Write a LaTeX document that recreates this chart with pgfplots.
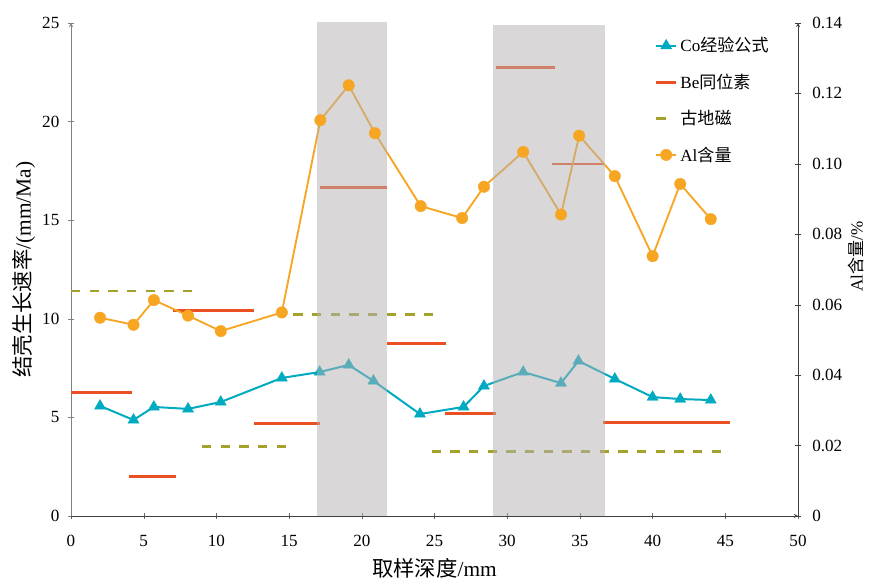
\documentclass[border=0pt]{standalone}
\usepackage{pgfplots}
\pgfplotsset{compat=1.18}
\usepackage{fontspec}
\setmainfont{Liberation Serif}
\newfontfamily\cjk{Noto Sans CJK SC}
\definecolor{coC}{RGB}{0,170,192}
\definecolor{beC}{RGB}{235,80,35}
\definecolor{geoC}{RGB}{163,163,44}
\definecolor{alC}{RGB}{246,166,35}
\definecolor{bandC}{RGB}{180,176,178}
\pgfplotsset{
  shortleg/.style={legend image code/.code={\draw[##1] (0cm,0cm) -- (0.25cm,0cm);}},
  lineleg/.style={legend image code/.code={\draw[mark repeat=2,mark phase=2,##1] plot coordinates {(0cm,0cm) (0.265cm,0cm) (0.53cm,0cm)};}},
}
\begin{document}
\begin{tikzpicture}[font=\fontsize{12.8}{15}\selectfont]
\pgfplotsset{
  common/.style={
    scale only axis, width=545.25pt, height=369.75pt,
    xmin=0, xmax=50,
    axis line style={-},
    tick align=outside,
    major tick length=4.5pt,
    /pgf/number format/assume math mode=true,
    label style={font=\fontsize{16}{18}\selectfont},
  },
}
\begin{axis}[common, name=main,
  ymin=0, ymax=25,
  axis x line=bottom, axis y line=left,
  xtick={0,5,...,50}, ytick={0,5,10,15,20,25},
  x axis line style={black!75},
  xtick style={black!60},
  y axis line style={gray},
  ytick style={gray},
  xticklabel style={yshift=-8.5pt},
  yticklabel style={xshift=-3pt},
  xlabel={{\cjk 取样深度}/mm},
  ylabel={{\cjk 结壳生长速率}/(mm/Ma)},
  xlabel style={at={(axis description cs:0.5,-0.1055)}, anchor=center},
  ylabel style={at={(axis description cs:-0.0647,0.5)}, anchor=center},
  unbounded coords=jump,
]
% Be isotope segments
\addplot[beC, line width=2.2pt] coordinates {
 (0,6.24) (4.2,6.24) (4.2,nan)
 (4.0,1.98) (7.2,1.98) (7.2,nan)
 (7.0,10.41) (12.6,10.41) (12.6,nan)
 (12.6,4.70) (17.1,4.70) (17.1,nan)
 (17.1,16.67) (21.7,16.67) (21.7,nan)
 (21.7,8.77) (25.8,8.77) (25.8,nan)
 (25.7,5.21) (29.2,5.21) (29.2,nan)
 (29.2,22.73) (33.3,22.73) (33.3,nan)
 (33.1,17.85) (36.7,17.85) (36.7,nan)
 (36.6,4.75) (45.3,4.75)
};
% palaeomagnetism segments
\addplot[geoC, line width=2.2pt, dash pattern=on 7pt off 7pt] coordinates {
 (0,11.41) (8.6,11.41) (8.6,nan)
 (15.3,10.24) (25.0,10.24) (25.0,nan)
 (9.0,3.51) (14.9,3.51) (14.9,nan)
 (24.8,3.28) (45.1,3.28)
};
% Co empirical formula
\addplot[coC, line width=1.5pt, mark=triangle*, mark size=4.8pt, mark options={line width=0.3pt}] coordinates {
 (2.0,5.58) (4.3,4.87) (5.7,5.53) (8.05,5.43) (10.3,5.78) (14.5,7.0) (17.1,7.30) (19.1,7.66) (20.8,6.85) (24.0,5.17) (27.0,5.53) (28.4,6.59) (31.1,7.30) (33.7,6.74) (34.9,7.86) (37.4,6.95) (40.0,6.03) (41.9,5.93) (44.0,5.88)
};
\end{axis}
\begin{axis}[common,
  ymin=0, ymax=0.14,
  axis y line=right, axis x line=none,
  y axis line style={black!75},
  ytick style={black!75},
  ytick={0,0.02,0.04,0.06,0.08,0.10,0.12,0.14},
  yticklabels={0,0.02,0.04,0.06,0.08,0.10,0.12,0.14},
  yticklabel style={xshift=5pt},
  scaled y ticks=false,
  ylabel={Al{\cjk 含量}/\%},
  ylabel style={at={(axis description cs:1.0798,0.526)}, anchor=center, rotate=0},
  legend cell align=left,
  legend style={draw=none, fill=none, at={(0.797,0.982)}, anchor=north west,
    row sep=11pt, font=\fontsize{12.8}{15}\selectfont},
  lineleg,
]
\addlegendimage{coC, line width=1.5pt, mark=triangle*, mark size=4.8pt, mark options={line width=0.3pt}}
\addlegendentry{Co{\cjk 经验公式}}
\addlegendimage{beC, line width=2.2pt}
\addlegendentry{Be{\cjk 同位素}}
\addlegendimage{geoC, line width=2.2pt, shortleg}
\addlegendentry{{\cjk 古地磁}}
\addplot[alC, line width=1.4pt, mark=*, mark size=4.3pt, mark options={line width=0.3pt}] coordinates {
 (2.0,0.0563) (4.3,0.0543) (5.7,0.0613) (8.05,0.0569) (10.3,0.0525) (14.5,0.0578) (17.15,0.1124) (19.1,0.1223) (20.9,0.1087) (24.05,0.0880) (26.9,0.0846) (28.4,0.0935) (31.1,0.1034) (33.7,0.0856) (34.95,0.1080) (37.4,0.0965) (40.0,0.0738) (41.9,0.0943) (44.0,0.0843)
};
\addlegendentry{Al{\cjk 含量}}
% grey bands over the data
\addplot[draw=none, fill=bandC, fill opacity=0.5, forget plot] coordinates {(16.9,0) (16.9,0.1405) (21.7,0.1405) (21.7,0)} -- cycle;
\addplot[draw=none, fill=bandC, fill opacity=0.5, forget plot] coordinates {(29.0,0) (29.0,0.1395) (36.7,0.1395) (36.7,0)} -- cycle;
\end{axis}
\pgfresetboundingbox
\path[use as bounding box] ([shift={(-53.25pt,-47.25pt)}]main.south west) rectangle ([shift={(57pt,17.25pt)}]main.north east);
\end{tikzpicture}
\end{document}
